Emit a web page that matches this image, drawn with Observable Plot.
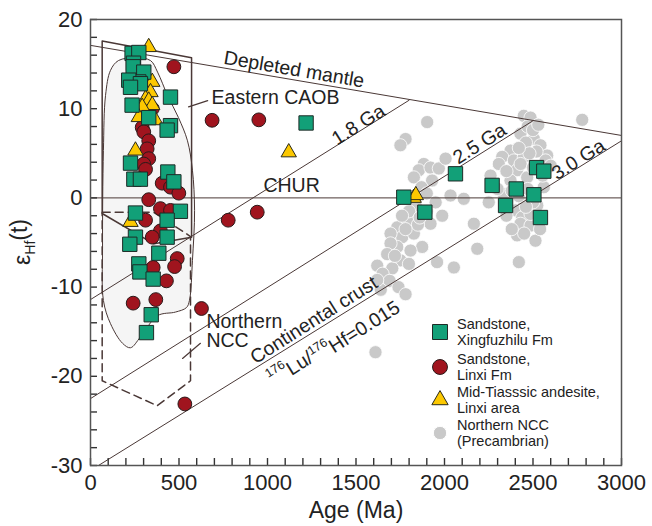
<!DOCTYPE html>
<html><head><meta charset="utf-8">
<script src="https://cdn.jsdelivr.net/npm/d3@7"></script>
<script src="https://cdn.jsdelivr.net/npm/@observablehq/plot@0.6"></script>
<style>
body{margin:0;background:#fff;}
#wrap{position:relative;width:652px;height:526px;font-family:"Liberation Sans",Arial,sans-serif;}
#legend{position:absolute;left:0;top:0;pointer-events:none;}
</style></head><body><div id="wrap"></div>
<script>
// ---------- data ----------
const xTicks = [0, 500, 1000, 1500, 2000, 2500, 3000];
const yTicks = [-30, -20, -10, 0, 10, 20];
const xMinor = d3.range(0, 3001, 100);
const yMinor = d3.range(-30, 21, 2);

// Sandstone, Xingfuzhilu Fm  [age Ma, eHf(t)]
const squares = [[235,16.2],[273,16.3],[243,15.1],[241,14.7],[301,14.1],[273,13.0],[216,13.2],[282,12.8],[226,12.4],[452,11.3],[235,10.4],[329,9.0],[452,8.1],[433,7.6],[226,3.9],[245,2.1],[282,2.1],[437,2.9],[471,1.8],[254,-1.7],[508,-1.5],[433,-2.5],[254,-4.4],[433,-4.4],[222,-5.2],[386,-6.2],[273,-7.4],[279,-8.3],[354,-9.1],[343,-13.1],[316,-15.1],[1218,8.4],[1770,0.08],[1889,-1.6],[2062,2.7],[2269,1.4],[2405,1.0],[2345,-0.85],[2505,0.35],[2520,3.4],[2561,3.0],[2542,-2.2]];
// Sandstone, Linxi Fm
const circles = [[471,14.7],[687,8.7],[951,8.75],[349,10.0],[292,7.9],[301,7.4],[329,6.4],[320,5.5],[329,4.4],[301,3.8],[311,3.2],[405,1.65],[452,1.2],[499,0.53],[329,-0.2],[395,-1.2],[452,-1.4],[311,-2.5],[395,-3.7],[349,-4.4],[490,-6.8],[475,-7.7],[354,-7.8],[429,-9.3],[241,-11.8],[369,-11.4],[627,-12.4],[533,-23.1],[778,-2.5],[942,-1.6]];
// Mid-Triassic andesite, Linxi area
const triangles = [[329,16.9],[349,13.0],[339,11.85],[311,11.1],[329,10.9],[349,10.4],[292,10.2],[273,9.05],[367,8.7],[254,5.3],[226,-2.7],[1120,5.1],[1826,0.0],[1838,0.3]];
// Northern NCC (Precambrian)
const greyDots = [[1902,8.5],[1780,6.6],[1751,5.9],[1883,3.8],[1855,3.1],[1827,2.3],[1921,3.4],[1968,3.3],[2006,4.4],[1930,1.95],[1870,1.2],[1900,0.5],[2034,0.27],[2109,-0.1],[1987,-2.0],[1921,-2.9],[1789,-2.5],[1733,-3.3],[1761,-4.4],[1695,-4.0],[1827,-4.0],[1874,-5.5],[1808,-5.9],[1733,-5.5],[1695,-5.1],[1676,-6.3],[1751,-7.0],[1620,-7.6],[1705,-7.9],[1799,-7.4],[1958,-7.2],[1840,-1.0],[1800,-1.5],[1760,-2.0],[1850,-3.0],[1780,-3.5],[1720,-6.5],[1650,-8.5],[1690,-9.3],[1740,-10.0],[1640,-10.3],[1780,-10.8],[1610,-17.3],[1620,-9.2],[1860,-2.2],[1900,-1.5],[1950,-0.5],
[2448,9.2],[2486,9.0],[2778,8.75],[2429,7.2],[2505,6.6],[2542,5.9],[2580,4.75],[2373,5.3],[2326,4.6],[2307,3.8],[2392,4.2],[2448,4.6],[2410,3.1],[2467,2.3],[2373,1.95],[2335,0.45],[2448,-0.3],[2401,-1.4],[2439,-2.2],[2429,-2.9],[2486,-3.1],[2486,-1.8],[2524,-0.85],[2561,1.2],[2571,4.2],[2260,2.5],[2166,-2.9],[2185,-5.7],[2053,-7.8],[2420,-7.2],[2514,-4.8],[2470,8.0],[2500,7.6],[2460,6.2],[2520,5.2],[2480,5.0],[2420,5.6],[2350,3.0],[2430,3.8],[2500,3.4],[2380,0.8],[2420,0.2],[2470,1.0],[2500,-0.5],[2460,-1.0],[2540,-3.5],[2410,-4.2],[2450,-4.0],[2300,1.0],[2250,-0.5],[2555,2.5],[2600,3.6],[2350,-2.0],[2380,-3.5],[2530,8.2]];

// model lines
const depletedMantle = [[0,17.1],[3000,7.0]];
const chur = [[0,0],[3000,0]];
const crust18 = [[0,-11.4],[1800,10.95]];
const crust25 = [[0,-22.5],[2500,8.65]];
const crust30 = [[45,-30],[3000,6.4]];

// fields
const caobField = [[73,-11.5],[68,-5.6],[73,5.3],[85,11.5],[113,14.3],[158,15.4],[254,15.7],[339,15.4],[379,14.1],[435,11.5],[497,9.0],[548,6.4],[576,3.1],[588,-1.4],[576,-7.0],[559,-11.5],[542,-12.3],[480,-12.8],[379,-13.2],[282,-15.6],[226,-16.8],[181,-16.3],[113,-14.1]];
const caobBox = [[66,17.6],[571,15.7],[571,-4.4],[358,-5.15],[66,-1.75],[66,17.6]];
const nccBox = [[66,-1.6],[356,-1.6],[565,-4.33],[565,-20.5],[377,-23.3],[66,-20.5],[66,-1.6]];

// ---------- chart ----------
const LINE = "#4a3836";
const FONT = "Liberation Sans, Arial, sans-serif";
const TXT = "#222";
const ann = (text, x, y, o = {}) => Plot.text([text], {x: () => x, y: () => y, text: d => d, fontSize: 19.5, fill: TXT, ...o});
const xy = {x: d => d[0], y: d => d[1]};

const chart = Plot.plot({
  width: 652, height: 526,
  marginLeft: 90, marginRight: 31, marginTop: 19, marginBottom: 61,
  style: {fontFamily: FONT, fontSize: "22px", color: "#222", background: "#fff"},
  x: {type: "linear", domain: [0, 3000]},
  y: {type: "linear", domain: [-30, 20]},
  marks: [
    Plot.line(caobField, {...xy, curve: "catmull-rom-closed", fill: "#f5f5f5", stroke: LINE, strokeWidth: 1}),
    Plot.line(caobBox, {...xy, stroke: LINE, strokeWidth: 1.5}),
    Plot.line(nccBox, {...xy, stroke: LINE, strokeWidth: 1.5, strokeDasharray: "8,5"}),
    Plot.dot(greyDots, {...xy, r: 6.6, fill: "#c9c9c9", stroke: "#fff", strokeWidth: 0.8}),
    ...[depletedMantle, chur, crust18, crust25, crust30].map(l =>
      Plot.line(l, {...xy, stroke: LINE, strokeWidth: 1})),
    Plot.dot(circles, {...xy, r: 6.9, fill: "#a0141e", stroke: "#2a1a1a", strokeWidth: 1}),
    Plot.dot(triangles, {...xy, r: 5.7, symbol: "triangle", fill: "#fcc800", stroke: "#2a2a1a", strokeWidth: 1}),
    Plot.dot(squares, {...xy, r: 8.1, symbol: "square", fill: "#12a078", stroke: "#1e2a26", strokeWidth: 1}),
    // annotations
    ann("Depleted mantle", 1150, 14.4, {rotate: 9.6}),
    ann("Eastern CAOB", 1045, 11.2),
    Plot.line([[554,10.2],[662,10.9]], {...xy, stroke: LINE, strokeWidth: 1.2}),
    ann("1.8 Ga", 1514, 8.2, {rotate: -32.3}),
    ann("2.5 Ga", 2198, 6.06, {rotate: -32.3}),
    ann("3.0 Ga", 2757, 4.3, {rotate: -32.3}),
    ann("CHUR", 1136, 1.37),
    ann("Northern\nNCC", 655, -15.0, {textAnchor: "start", lineHeight: 0.98}),
    Plot.line([[520,-18.0],[621,-16.3]], {...xy, stroke: LINE, strokeWidth: 1.2}),
    ann("Continental crust", 1262, -13.7, {rotate: -32.3}),
    ann("176Lu/176Hf=0.015", 1360, -15.8, {rotate: -32.3}),
    // inward minor ticks (axis ticks shifted into the frame)
    Plot.axisX({ticks: xMinor, tickSize: 7, dy: -7, tickFormat: () => "", label: null, stroke: "#333", strokeWidth: 1.4}),
    Plot.axisY({ticks: yMinor, tickSize: 7, dx: 7, tickFormat: () => "", label: null, stroke: "#333", strokeWidth: 1.4}),
    // tick labels
    Plot.axisX({ticks: xTicks, tickSize: 0, tickPadding: 9, tickFormat: d => String(d), label: null, fill: TXT}),
    Plot.axisY({ticks: yTicks, tickSize: 0, tickPadding: 8, tickFormat: d => String(d), label: null, fill: TXT}),
    Plot.frame({stroke: "#555", strokeWidth: 1.5})
  ]
});
document.getElementById("wrap").appendChild(chart);

const svg = d3.select(chart);
// superscripts in the isotope-ratio label
svg.selectAll("text").filter(function(){ return this.textContent === "176Lu/176Hf=0.015"; }).each(function(){
  const t = d3.select(this); t.text(null);
  t.append("tspan").attr("font-size", 12.5).attr("dy", "-0.55em").text("176");
  t.append("tspan").attr("dy", "0.55em").text("Lu/");
  t.append("tspan").attr("font-size", 12.5).attr("dy", "-0.55em").text("176");
  t.append("tspan").attr("dy", "0.55em").text("Hf=0.015");
});
// axis titles
svg.append("text").attr("x", 356).attr("y", 518).attr("text-anchor", "middle")
  .attr("font-size", 23).attr("fill", TXT).attr("font-family", FONT).text("Age (Ma)");
const yt = svg.append("text").attr("transform", "translate(30,242) rotate(-90)").attr("text-anchor", "middle")
  .attr("font-size", 23).attr("fill", TXT).attr("font-family", FONT);
yt.append("tspan").text("ε");
yt.append("tspan").attr("font-size", 14).attr("dy", "0.35em").text("Hf");
yt.append("tspan").attr("dy", "-0.35em").text("(t)");

// legend
const legendItems = [
  {lines: ["Sandstone,", "Xingfuzhilu Fm"], sym: d3.symbolSquare, size: 225, fill: "#12a078", stroke: "#1e2a26"},
  {lines: ["Sandstone,", "Linxi Fm"], sym: d3.symbolCircle, size: 175, fill: "#a0141e", stroke: "#2a1a1a"},
  {lines: ["Mid-Tiasssic andesite,", "Linxi area"], sym: d3.symbolTriangle, size: 115, fill: "#fcc800", stroke: "#2a2a1a"},
  {lines: ["Northern NCC", "(Precambrian)"], sym: d3.symbolCircle, size: 140, fill: "#c9c9c9", stroke: "#fff"}
];
const lg = d3.select("#wrap").append("svg").attr("id", "legend").attr("width", 652).attr("height", 526);
const symY = [332, 367, 400, 433];
legendItems.forEach((it, i) => {
  lg.append("path").attr("d", d3.symbol(it.sym, it.size)()).attr("transform", `translate(440,${symY[i]})`)
    .attr("fill", it.fill).attr("stroke", it.stroke).attr("stroke-width", 1);
  const t = lg.append("text").attr("x", 457).attr("y", symY[i] - 8).attr("font-size", 14.5)
    .attr("font-family", FONT).attr("fill", TXT).attr("dominant-baseline", "central");
  it.lines.forEach((l, j) => t.append("tspan").attr("x", 457).attr("dy", j ? 16 : 0).text(l));
});
</script></body></html>
